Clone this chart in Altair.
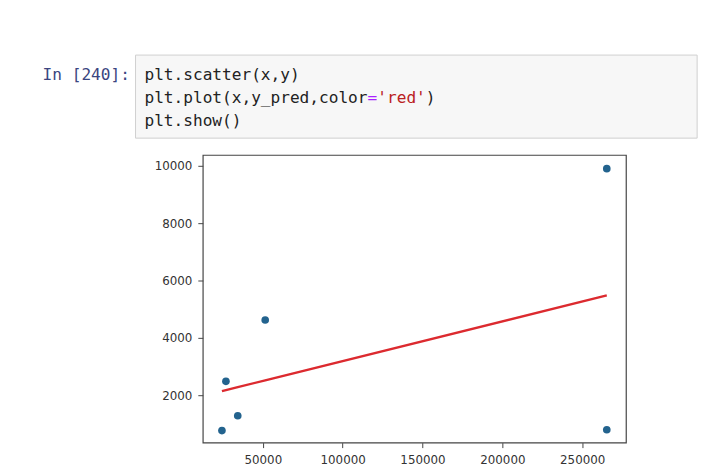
import altair as alt
import pandas as pd

# ---- data ----
x_vals = [24400, 26900, 34300, 51500, 265400, 265400]
y_vals = [760, 2480, 1280, 4620, 9900, 790]
y_pred = [2140, 2175, 2275, 2515, 5480, 5480]

x_ticks = [50000, 100000, 150000, 200000, 250000]
y_ticks = [2000, 4000, 6000, 8000, 10000]
x_domain = [12400, 277400]
y_domain = [340, 10380]

prompt_text = "In [240]:"
code_line1 = "plt.scatter(x,y)"
code_line2_parts = ["plt.plot(x,y_pred,color", "=", "'red'", ")"]
code_line3 = "plt.show()"

# ---- layout / style ----
W, H = 428, 291
MONO = "DejaVu Sans Mono"
MONO_SIZE = 16.3
CHAR_W = MONO_SIZE * 0.602
CODE_X = -59
LINE_Y = [-81, -57.5, -34]

df = pd.DataFrame({"x": x_vals, "y": y_vals, "y_pred": y_pred, "i": list(range(len(x_vals)))})

xs = alt.Scale(domain=x_domain, nice=False, zero=False)
ys = alt.Scale(domain=y_domain, nice=False, zero=False)

x_axis = alt.Axis(values=x_ticks, format="d", title=None, labelPadding=7, labelOverlap=False)
y_axis = alt.Axis(values=y_ticks, format="d", title=None, labelPadding=6, labelOverlap=False)

points = alt.Chart(df).mark_circle(size=60, color="#23638e", opacity=1).encode(
    x=alt.X("x:Q", scale=xs, axis=x_axis),
    y=alt.Y("y:Q", scale=ys, axis=y_axis),
)

line = alt.Chart(df).mark_line(color="#dc2a2f", strokeWidth=2.4).encode(
    x=alt.X("x:Q", scale=xs),
    y=alt.Y("y_pred:Q", scale=ys),
    order="i:O",
)

one = pd.DataFrame({"k": [0]})

code_box = alt.Chart(one).mark_rect(fill="#f7f7f7", stroke="#cfcfcf", strokeWidth=1).encode(
    x=alt.value(-68), x2=alt.value(500), y=alt.value(-101), y2=alt.value(-17)
)


def txt(s, x, y, color):
    return alt.Chart(pd.DataFrame({"t": [s]})).mark_text(
        font=MONO, fontSize=MONO_SIZE, align="left", baseline="middle", color=color
    ).encode(text="t:N", x=alt.value(x), y=alt.value(y))


layers = [code_box, txt(prompt_text, -162, LINE_Y[0], "#3a4580"),
          txt(code_line1, CODE_X, LINE_Y[0], "#222222")]

part_colors = ["#222222", "#aa22ff", "#ba2121", "#222222"]
offset = 0
for part, col in zip(code_line2_parts, part_colors):
    layers.append(txt(part, CODE_X + offset * CHAR_W, LINE_Y[1], col))
    offset += len(part)
layers.append(txt(code_line3, CODE_X, LINE_Y[2], "#222222"))

chart = alt.layer(points, line, *layers).properties(
    width=W,
    height=H,
    autosize=alt.AutoSizeParams(type="none"),
    padding={"left": 197, "top": 146, "right": 84, "bottom": 22},
).configure_view(
    stroke="#444444", strokeWidth=1.2
).configure_axis(
    grid=False, domain=False, ticks=True, tickSize=5, tickColor="#444444", tickWidth=1,
    labelFont="DejaVu Sans", labelFontSize=12, labelColor="#333333",
)

chart.save("out.html", embed_options={"renderer": "svg", "actions": False})
